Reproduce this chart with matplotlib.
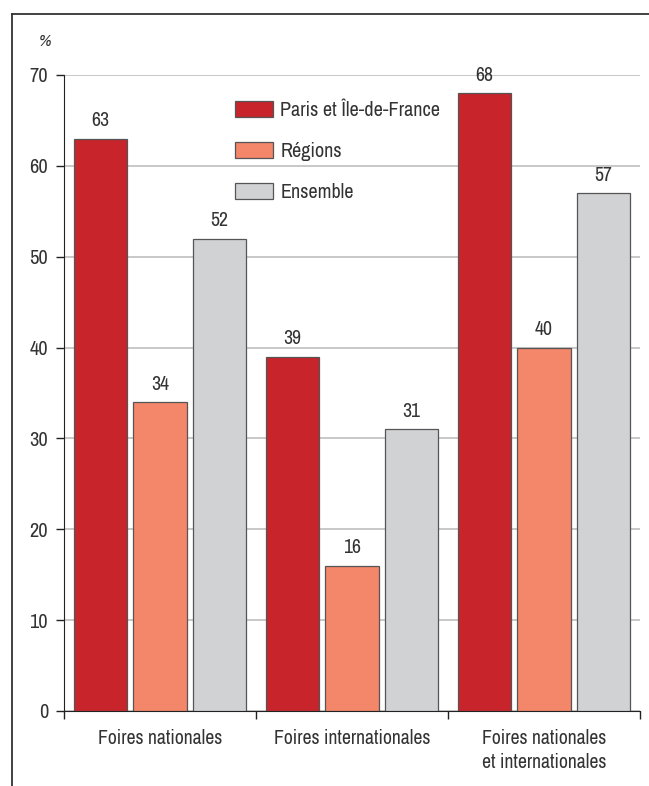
import matplotlib
matplotlib.use('Agg')
import matplotlib.pyplot as plt
from matplotlib import font_manager
import numpy as np
from matplotlib.lines import Line2D

# police étroite si disponible
names = sorted({f.name for f in font_manager.fontManager.ttflist})
narrow = [n for n in names if 'Narrow' in n or 'Condensed' in n]
family = narrow[0] if narrow else 'Roboto'
plt.rcParams['font.family'] = [family, 'DejaVu Sans']

# données
categories = ['Foires nationales', 'Foires internationales', 'Foires nationales\net internationales']
series = ['Paris et Île-de-France', 'Régions', 'Ensemble']
paris = [63, 39, 68]
regions = [34, 16, 40]
ensemble = [52, 31, 57]
colors = ['#C8242B', '#F4866A', '#D1D2D4']

fig = plt.figure(figsize=(6.49, 7.86), dpi=100)
ax = fig.add_axes([64/649, 1-711/786, 576/649, 636/786])

x = np.arange(len(categories))
width = 0.281
step = 0.31
txt = '#333333'
fs = 14.2
for i, (vals, c, lab) in enumerate(zip([paris, regions, ensemble], colors, series)):
    pos = x + (i - 1) * step
    bars = ax.bar(pos, vals, width, color=c, edgecolor='#555555', linewidth=0.9,
                  label=lab, zorder=3)
    for b, v in zip(bars, vals):
        ax.text(b.get_x() + b.get_width()/2, v + 0.9, str(v), ha='center', va='bottom',
                fontsize=fs, color=txt)

ax.set_xlim(-0.5, 2.5)
ax.set_ylim(0, 70)
ax.set_yticks(range(0, 71, 10))
ax.yaxis.grid(True, color='#c4c4c4', linewidth=1.3, zorder=0)
ax.set_xticks(x)
ax.set_xticklabels(categories, fontsize=fs, color=txt, linespacing=1.3)
ax.tick_params(axis='x', length=0, pad=13)
ax.set_xticks([-0.5, 0.5, 1.5, 2.5], minor=True)
ax.tick_params(axis='x', which='minor', length=6, width=1, color='#222222', direction='out')
ax.tick_params(axis='y', length=6, width=1, color='#222222', labelsize=fs + 0.5,
               labelcolor=txt, pad=5.5)
for s in ['top', 'right']:
    ax.spines[s].set_visible(False)
ax.spines['left'].set_color('#222222')
ax.spines['bottom'].set_color('#222222')

ax.text((45-64)/576, (711-42)/636, '%', transform=ax.transAxes, fontsize=12.5,
        style='italic', color=txt, ha='center', va='center')

ax.legend(loc='upper left', bbox_to_anchor=(163/576, 1 - 18/636), frameon=False,
          fontsize=14.5, handlelength=1.9, handleheight=0.85, labelspacing=1.08,
          handletextpad=0.35, borderaxespad=0, labelcolor=txt)

# cadre
fig.add_artist(Line2D([12/649, 1], [1-14/786, 1-14/786], color='#333333', linewidth=1.3))
fig.add_artist(Line2D([12/649, 12/649], [0, 1-14/786], color='#333333', linewidth=1.3))

fig.savefig('out.png', dpi=100)
